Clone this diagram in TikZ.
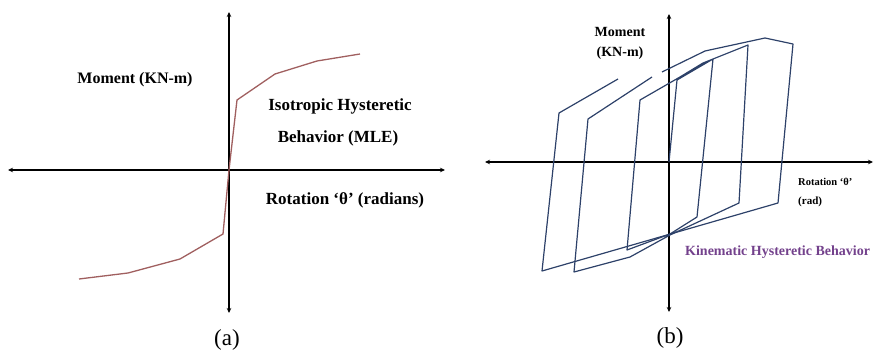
\documentclass[tikz,border=0pt]{standalone}
\usepackage{fontspec}
\setmainfont{Liberation Serif}
\usetikzlibrary{arrows.meta}
\definecolor{isocol}{RGB}{160,95,95}
\definecolor{kincol}{RGB}{45,65,105}
\definecolor{kinpurple}{RGB}{115,65,140}
\begin{document}
\begin{tikzpicture}[x=1pt,y=-1pt,
  axisline/.style={line width=1.6pt,{Stealth[length=5pt,width=4.5pt]}-{Stealth[length=5pt,width=4.5pt]}},
  isocurve/.style={line width=1.3pt,draw=isocol,line join=round},
  kincurve/.style={line width=1.2pt,draw=kincol,line join=round},
  biglbl/.style={font=\bfseries\fontsize{17}{20}\selectfont,inner sep=0pt},
  smalllbl/.style={font=\bfseries\fontsize{14}{16}\selectfont,inner sep=0pt},
  tinylbl/.style={font=\bfseries\fontsize{10.5}{12}\selectfont,inner sep=0pt,anchor=west},
  caplbl/.style={font=\fontsize{23}{26}\selectfont,inner sep=0pt}]
\useasboundingbox (0,0) rectangle (877,352);
% ---------- panel (a) ----------
\coordinate (aL) at (8,170);
\coordinate (aR) at (445,170);
\coordinate (aT) at (229,12);
\coordinate (aB) at (229,313);
\draw[axisline] (aL) -- (aR);
\draw[axisline] (aT) -- (aB);
\draw[isocurve] (79,279) -- (128,273) -- (180,259) -- (223,234) -- (229,170)
  -- (237,100) -- (275,74) -- (317,61) -- (360,54);
\node[biglbl,font=\bfseries\fontsize{16}{20}\selectfont] (amom) at (135,80) {Moment (KN-m)};
\node[biglbl] (aiso) at (340,106) {Isotropic Hysteretic};
\node[biglbl] (abeh) at (338,138) {Behavior (MLE)};
\node[biglbl] (arot) at (345,200) {Rotation ‘θ’ (radians)};
\node[caplbl] (acap) at (227,340) {(a)};
% ---------- panel (b) ----------
\coordinate (bL) at (485,162);
\coordinate (bR) at (873,162);
\coordinate (bT) at (669,14);
\coordinate (bB) at (669,312);
\draw[axisline] (bL) -- (bR);
\draw[axisline] (bT) -- (bB);
\draw[kincurve] (669,162) -- (677,80) -- (713,59) -- (697,217) -- (670,234)
  -- (627,250) -- (640,100) -- (680,77) -- (703,63) -- (748,45) -- (739,203)
  -- (670,235) -- (630,257) -- (574,272) -- (588,119) -- (652,77);
\draw[kincurve] (662,72) -- (705,51) -- (765,38) -- (793,44) -- (778,203)
  -- (542,271) -- (559,113) -- (618,79);
\node[smalllbl] (bmom) at (620,32) {Moment};
\node[smalllbl] (bkn) at (620,53) {(KN-m)};
\node[tinylbl] (brot) at (798,182) {Rotation ‘θ’};
\node[tinylbl,font=\bfseries\fontsize{11}{12}\selectfont] (brad) at (798,202) {(rad)};
\node[smalllbl,anchor=west,text=kinpurple] (bkin) at (685,252) {Kinematic Hysteretic Behavior};
\node[caplbl] (bcap) at (670,338) {(b)};
\end{tikzpicture}
\end{document}
